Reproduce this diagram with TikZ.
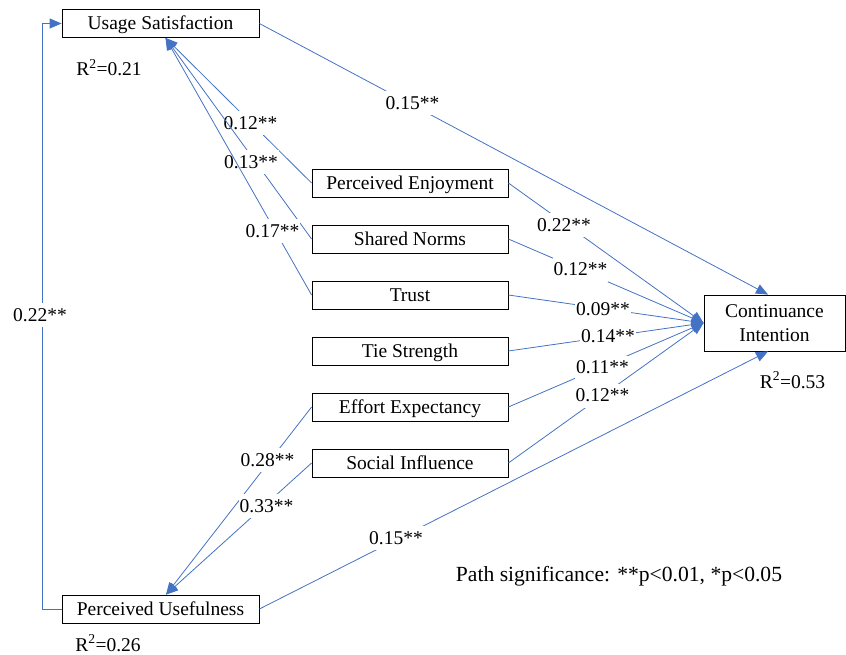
\documentclass[tikz,border=0pt]{standalone}
\usepackage{fontspec}
\setmainfont{Liberation Serif}
\usetikzlibrary{arrows.meta}
\definecolor{pathblue}{RGB}{68,114,196}
\begin{document}
\begin{tikzpicture}[x=1pt,y=-1pt,
  txt/.style={font=\fontsize{19.5}{23.5}\selectfont},
  box/.style={txt, draw=black, line width=0.8pt, minimum height=28pt, inner sep=0pt, fill=white},
  wbox/.style={box, minimum width=197pt, text height=16.5pt, text depth=4pt},
  conn/.style={draw=pathblue, line width=0.8pt, -{Triangle[length=12pt,width=10pt]}},
  lbl/.style={txt, fill=white, inner xsep=1pt, inner ysep=0pt, minimum height=24pt},
  note/.style={txt, inner sep=0pt, anchor=base}
]
\useasboundingbox (0,0) rectangle (846,655);

% boxes
\node[wbox] (us) at (160.5,23.5) {Usage Satisfaction};
\node[wbox] (pu) at (160.5,609) {Perceived Usefulness};
\node[wbox, minimum width=196pt] (pe) at (410,183) {Perceived Enjoyment};
\node[wbox, minimum width=196pt] (sn) at (410,239) {Shared Norms};
\node[wbox, minimum width=196pt] (tr) at (410,295) {Trust};
\node[wbox, minimum width=196pt] (ts) at (410,351) {Tie Strength};
\node[wbox, minimum width=196pt] (ee) at (410,407) {Effort Expectancy};
\node[wbox, minimum width=196pt] (si) at (410,463) {Social Influence};
\node[box, minimum width=141pt, minimum height=56pt, align=center] (ci) at (774.5,323) {Continuance\\Intention};

% anchor points
\coordinate (usin) at ([xshift=5pt]us.south);
\coordinate (puin) at ([xshift=5.5pt]pu.north);
\coordinate (citop) at ([xshift=-6.5pt]ci.north);
\coordinate (cibot) at ([xshift=-6.5pt]ci.south);
\coordinate (loopx) at (42,609);

% R squared
\node[note] (r1) at (109,76) {R\textsuperscript{2}=0.21};
\node[note] (r2) at (108,651.5) {R\textsuperscript{2}=0.26};
\node[note] (r3) at (792.5,388.3) {R\textsuperscript{2}=0.53};

% loop PU -> US
\draw[conn] (pu.west) -- (loopx) |- (us.west);
\node[lbl] (l0) at (40,315) {0.22**};

% into Usage Satisfaction
\draw[conn] (pe.west) -- (usin);
\node[lbl] (l1) at (250.5,123) {0.12**};
\draw[conn] (sn.west) -- (usin);
\node[lbl] (l2) at (251,162.5) {0.13**};
\draw[conn] (tr.west) -- (usin);
\node[lbl] (l3) at (272.5,231.5) {0.17**};

% US -> CI
\draw[conn] (us.east) -- (citop);
\node[lbl] (l4) at (412.5,103.5) {0.15**};

% into Continuance Intention
\draw[conn] (pe.east) -- (ci.west);
\node[lbl] (l5) at (564,225) {0.22**};
\draw[conn] (sn.east) -- (ci.west);
\node[lbl] (l6) at (580.5,269.5) {0.12**};
\draw[conn] (tr.east) -- (ci.west);
\node[lbl] (l7) at (603,309.5) {0.09**};
\draw[conn] (ts.east) -- (ci.west);
\node[lbl] (l8) at (608,336) {0.14**};
\draw[conn] (ee.east) -- (ci.west);
\node[lbl] (l9) at (602.5,367.5) {0.11**};
\draw[conn] (si.east) -- (ci.west);
\node[lbl] (l10) at (602.5,395.5) {0.12**};

% PU -> CI
\draw[conn] (pu.east) -- (cibot);
\node[lbl] (l11) at (396,538) {0.15**};

% into Perceived Usefulness
\draw[conn] (ee.west) -- (puin);
\node[lbl] (l12) at (267.5,460) {0.28**};
\draw[conn] (si.west) -- (puin);
\node[lbl] (l13) at (266.5,506) {0.33**};

% legend
\node[note, font=\fontsize{21.6}{26}\selectfont] (leg) at (619,581.7) {Path significance: **p<0.01, *p<0.05};
\end{tikzpicture}
\end{document}
